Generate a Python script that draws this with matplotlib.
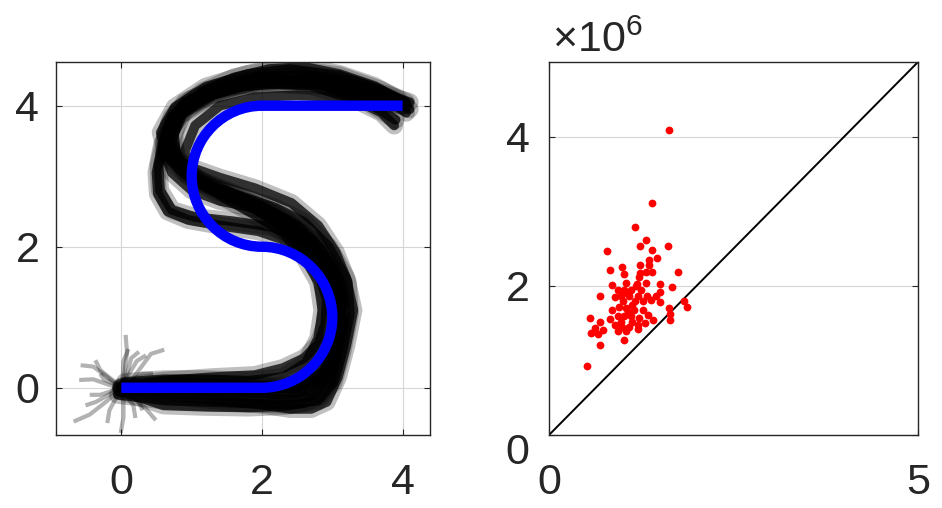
import numpy as np
import matplotlib.pyplot as plt
from matplotlib.path import Path
from matplotlib.patches import PathPatch
from matplotlib.transforms import ScaledTranslation

plt.rcParams['font.family'] = ['Liberation Sans', 'DejaVu Sans']
plt.rcParams['mathtext.fontset'] = 'custom'
plt.rcParams['mathtext.rm'] = 'Liberation Sans'
plt.rcParams['mathtext.it'] = 'Liberation Sans'

TXT = '#262626'

# reference path (lines + quarter circles as cubic bezier control points)
ref_verts = [(0, 0), (2, 0),
             (2.55, 0), (3, 0.45), (3, 1),
             (3, 1.55), (2.55, 2), (2, 2),
             (1.45, 2), (1, 2.45), (1, 3),
             (1, 3.55), (1.45, 4), (2, 4),
             (4, 4)]
ref_codes = [Path.MOVETO, Path.LINETO] + [Path.CURVE4] * 12 + [Path.LINETO]

# hand traced demonstrations
traj_x = [
    [0, 0.5, 1.0, 1.5, 2.0, 2.4, 2.72, 2.93, 3.04, 3.1, 3.04, 2.85, 2.55, 2.1, 1.6, 1.15, 0.85, 0.72, 0.82, 1.15, 1.7, 2.3, 3.0, 3.6, 4.0],
    [-0.05, 0.6, 1.2, 1.8, 2.4, 2.8, 3.02, 3.14, 3.25, 3.22, 3.05, 2.8, 2.42, 1.9, 1.4, 1.0, 0.65, 0.56, 0.76, 1.2, 1.8, 2.4, 3.1, 3.7, 4.05],
    [0.05, 0.6, 1.2, 1.8, 2.3, 2.62, 2.8, 2.86, 2.8, 2.6, 2.3, 1.9, 1.45, 1.1, 0.95, 0.9, 1.05, 1.4, 1.9, 2.5, 3.1, 3.6, 4.0],
    [0, 0.6, 1.2, 1.8, 2.3, 2.7, 2.9, 3.0, 3.12, 3.08, 2.9, 2.6, 2.15, 1.6, 1.05, 0.72, 0.55, 0.53, 0.62, 0.88, 1.35, 2.0, 2.7, 3.4, 4.0],
    [0.02, 0.7, 1.4, 2.0, 2.5, 2.82, 2.96, 3.05, 3.02, 2.82, 2.45, 1.95, 1.4, 0.95, 0.66, 0.52, 0.5, 0.58, 0.82, 1.3, 1.9, 2.6, 3.3, 3.8, 4.1],
    [0.0, 0.7, 1.4, 2.1, 2.6, 2.9, 3.0, 3.1, 3.15, 3.05, 2.85, 2.5, 2.0, 1.5, 1.05, 0.78, 0.66, 0.8, 1.15, 1.6, 2.1, 2.6, 3.1, 3.6, 3.95],
    [0.0, 0.7, 1.4, 2.0, 2.4, 2.7, 2.92, 3.08, 3.2, 3.3, 3.2, 2.95, 2.6, 2.2, 1.75, 1.3, 0.92, 0.68, 0.62, 0.72, 1.0, 1.5, 2.1, 2.8, 3.5, 3.9],
    [0.0, 0.6, 1.3, 1.9, 2.3, 2.6, 2.8, 2.9, 2.92, 2.8, 2.55, 2.2, 1.75, 1.3, 0.95, 0.78, 0.75, 0.9, 1.3, 1.9, 2.6, 3.3, 3.85, 4.1],
    [0.0, 0.6, 1.2, 1.8, 2.3, 2.6, 2.82, 2.98, 3.06, 3.15, 3.1, 2.95, 2.7, 2.35, 1.9, 1.4, 1.0, 0.72, 0.6, 0.66, 0.95, 1.45, 2.05, 2.7, 3.3, 3.8, 4.05],
    [0.0, 0.8, 1.6, 2.2, 2.6, 2.85, 3.0, 3.12, 3.12, 2.98, 2.72, 2.3, 1.8, 1.3, 0.92, 0.7, 0.68, 0.9, 1.35, 2.0, 2.7, 3.3, 3.7, 3.88],
]
traj_y = [
    [0, -0.02, -0.04, -0.06, -0.08, -0.1, -0.04, 0.2, 0.6, 1.0, 1.45, 1.85, 2.2, 2.5, 2.72, 2.92, 3.15, 3.5, 3.85, 4.12, 4.27, 4.32, 4.27, 4.13, 4.0],
    [-0.1, -0.18, -0.2, -0.22, -0.24, -0.18, 0.08, 0.5, 1.05, 1.5, 1.92, 2.3, 2.62, 2.83, 2.98, 3.12, 3.3, 3.62, 3.98, 4.27, 4.45, 4.52, 4.43, 4.22, 4.05],
    [0.08, 0.12, 0.12, 0.1, 0.15, 0.35, 0.7, 1.1, 1.5, 1.85, 2.2, 2.45, 2.7, 2.92, 3.1, 3.35, 3.72, 4.0, 4.12, 4.15, 4.12, 4.05, 4.0],
    [0, -0.06, -0.1, -0.13, -0.16, -0.12, 0.12, 0.5, 1.0, 1.45, 1.82, 2.1, 2.28, 2.36, 2.42, 2.52, 2.8, 3.15, 3.55, 3.92, 4.2, 4.36, 4.36, 4.22, 4.0],
    [-0.02, 0.02, 0.0, -0.02, 0.0, 0.2, 0.55, 1.0, 1.4, 1.8, 2.05, 2.22, 2.3, 2.38, 2.5, 2.75, 3.05, 3.45, 3.85, 4.15, 4.32, 4.38, 4.3, 4.15, 4.05],
    [0.0, 0.05, 0.05, 0.02, 0.05, 0.25, 0.55, 0.9, 1.25, 1.6, 1.95, 2.3, 2.58, 2.8, 2.98, 3.2, 3.55, 3.9, 4.2, 4.4, 4.52, 4.55, 4.45, 4.28, 4.08],
    [-0.03, -0.12, -0.18, -0.24, -0.3, -0.3, -0.2, 0.15, 0.6, 1.1, 1.55, 2.0, 2.35, 2.55, 2.7, 2.85, 3.02, 3.25, 3.55, 3.85, 4.1, 4.3, 4.38, 4.32, 4.05, 3.8],
    [0.02, 0.1, 0.15, 0.18, 0.28, 0.42, 0.62, 0.9, 1.25, 1.65, 2.0, 2.35, 2.62, 2.82, 3.0, 3.25, 3.6, 3.95, 4.2, 4.35, 4.38, 4.3, 4.1, 3.95],
    [-0.05, -0.25, -0.27, -0.28, -0.26, -0.22, -0.12, 0.1, 0.45, 0.85, 1.3, 1.7, 2.05, 2.35, 2.55, 2.65, 2.8, 3.05, 3.35, 3.7, 4.0, 4.22, 4.4, 4.42, 4.3, 4.1, 3.9],
    [0.0, 0.06, 0.04, 0.0, 0.0, 0.15, 0.45, 0.85, 1.3, 1.7, 2.08, 2.4, 2.65, 2.85, 3.05, 3.35, 3.75, 4.05, 4.25, 4.32, 4.28, 4.1, 3.9, 3.72],
]

# short curved start stubs around the origin
stub_x = [[0.06, 0.08, 0.05, 0.02], [0.61, 0.42, 0.25, 0.1], [-0.68, -0.45, -0.22, -0.05],
          [-0.58, -0.4, -0.2, -0.05], [0.49, 0.35, 0.18, 0.05], [-0.01, 0.03, 0.03, 0.0],
          [-0.6, -0.4, -0.2, -0.05], [-0.51, -0.36, -0.18, -0.03], [-0.37, -0.3, -0.14, -0.02],
          [0.25, 0.14, 0.08, 0.03], [0.2, 0.17, 0.08, 0.02], [0.35, 0.22, 0.1, 0.03],
          [-0.45, -0.3, -0.15, -0.03], [0.45, 0.3, 0.15, 0.05], [-0.2, -0.17, -0.08, 0.0],
          [0.1, 0.03, 0.02, 0.0], [-0.3, -0.25, -0.12, -0.02], [0.3, 0.25, 0.12, 0.03]]
stub_y = [[0.75, 0.5, 0.25, 0.05], [0.54, 0.48, 0.25, 0.05], [-0.48, -0.38, -0.2, -0.05],
          [0.32, 0.3, 0.15, 0.03], [-0.46, -0.3, -0.15, -0.03], [-0.64, -0.42, -0.2, -0.05],
          [0.11, 0.12, 0.05, 0.0], [-0.25, -0.2, -0.1, -0.02], [0.39, 0.25, 0.12, 0.03],
          [0.51, 0.42, 0.2, 0.05], [-0.43, -0.25, -0.12, -0.03], [0.46, 0.38, 0.18, 0.04],
          [-0.1, -0.1, -0.05, 0.0], [0.2, 0.2, 0.1, 0.02], [-0.5, -0.32, -0.15, -0.03],
          [0.55, 0.38, 0.18, 0.04], [0.2, 0.12, 0.06, 0.01], [-0.32, -0.2, -0.1, -0.02]]

# scatter values (in units of 1e6)
scat_x = [1.62, 1.40, 1.17, 1.32, 1.23, 1.39, 1.61, 0.79, 1.46, 1.35, 1.36, 1.23, 0.99, 0.82, 1.39, 1.23,
          1.01, 1.32, 1.75, 1.22, 0.86, 1.05, 1.19, 1.32, 1.51, 1.67, 0.93, 1.02, 1.11, 1.24, 1.51, 0.69,
          0.90, 0.97, 1.09, 1.20, 1.33, 1.45, 0.85, 0.95, 1.04, 1.13, 1.27, 1.38, 1.63, 1.83, 1.87, 0.82,
          0.93, 1.02, 1.11, 1.22, 1.34, 1.41, 1.64, 1.64, 0.56, 0.69, 0.63, 0.73, 0.57, 0.67, 0.90, 0.99,
          1.08, 0.94, 1.04, 1.20, 1.20, 1.01, 0.69, 0.52, 1.00, 1.07, 1.15, 0.97, 1.12, 1.16, 1.28, 1.06,
          1.30, 1.50, 1.18]
scat_y = [4.09, 3.11, 2.79, 2.62, 2.54, 2.48, 2.54, 2.46, 2.37, 2.35, 2.28, 2.28, 2.25, 2.21, 2.18, 2.17,
          2.16, 2.18, 2.19, 2.12, 2.01, 2.04, 2.03, 2.04, 2.02, 1.99, 1.94, 1.94, 1.94, 1.94, 1.92, 1.86,
          1.85, 1.86, 1.86, 1.86, 1.86, 1.86, 1.68, 1.72, 1.70, 1.74, 1.79, 1.81, 1.70, 1.79, 1.71, 1.55,
          1.59, 1.59, 1.59, 1.57, 1.61, 1.54, 1.62, 1.54, 1.57, 1.52, 1.44, 1.41, 1.37, 1.35, 1.48, 1.45,
          1.45, 1.39, 1.40, 1.48, 1.42, 1.28, 1.20, 0.93, 1.80, 1.65, 1.67, 1.52, 1.52, 1.80, 1.68, 1.90,
          1.50, 1.78, 2.00]


def style_axes(ax, xpad, ypad):
    ax.tick_params(direction='in', length=4, width=0.8, top=True, right=True,
                   labelsize=31, colors=TXT)
    ax.tick_params(axis='x', pad=xpad)
    ax.tick_params(axis='y', pad=ypad)
    ax.grid(True, color='#d6d6d6', lw=0.8)
    ax.set_axisbelow(True)
    for s in ax.spines.values():
        s.set_color(TXT)
        s.set_linewidth(1.0)


fig = plt.figure(figsize=(9.42, 5.08), dpi=100)
ax1 = fig.add_axes([56 / 942, 73 / 508, 374 / 942, 373 / 508])
ax2 = fig.add_axes([549 / 942, 73 / 508, 369 / 942, 373 / 508])

for xs, ys in zip(stub_x, stub_y):
    ax1.plot(xs, ys, color='black', lw=3.0, alpha=0.3, solid_capstyle='butt',
             solid_joinstyle='round', zorder=2)
for xs, ys in zip(traj_x, traj_y):
    ax1.plot(xs, ys, color='black', lw=13, alpha=0.25, solid_capstyle='round',
             solid_joinstyle='round', zorder=2)
    ax1.plot(xs, ys, color='black', lw=7, alpha=0.75, solid_capstyle='round',
             solid_joinstyle='round', zorder=2)
ax1.add_patch(PathPatch(Path(ref_verts, ref_codes), fill=False, edgecolor='#0000ff',
                        lw=7.5, capstyle='butt', zorder=3))
ax1.set_xlim(-0.93, 4.39)
ax1.set_ylim(-0.67, 4.62)
ax1.set_xticks([0, 2, 4])
ax1.set_yticks([0, 2, 4])
style_axes(ax1, 20, 12)

ax2.plot([0, 5], [0, 5], color='black', lw=1.4, zorder=2)
ax2.plot(scat_x, scat_y, 'o', color='#ff0000', ms=5.6, mec='none', zorder=3)
ax2.set_xlim(0, 5)
ax2.set_ylim(0, 5)
ax2.set_xticks([0, 5])
ax2.set_yticks([0, 2, 4])
style_axes(ax2, 20, 14)
lab0 = ax2.get_yticklabels()[0]
lab0.set_transform(lab0.get_transform() + ScaledTranslation(0, -0.14, fig.dpi_scale_trans))
fig.text(552 / 942, 1 - 52 / 508, r'$\times10^{6}$', fontsize=31, color=TXT,
         ha='left', va='baseline')

fig.savefig('out.png', dpi=100)
